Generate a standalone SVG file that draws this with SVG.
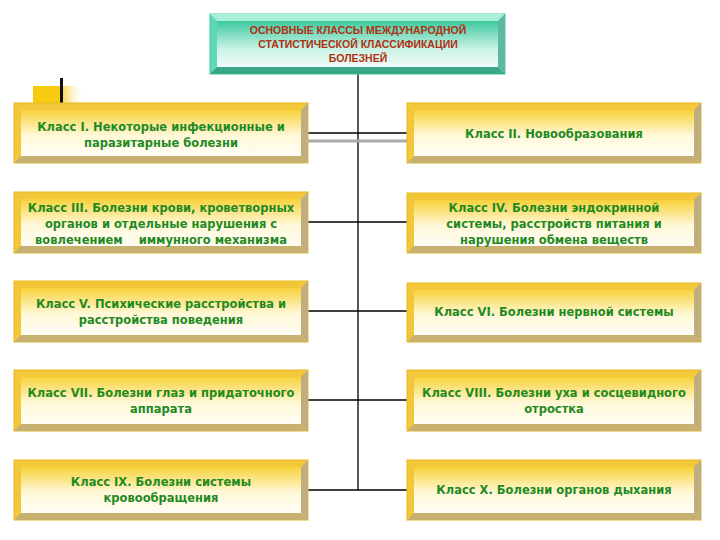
<svg xmlns="http://www.w3.org/2000/svg" width="720" height="540" viewBox="0 0 720 540">
<defs>
<linearGradient id="gy" x1="0" y1="0" x2="0" y2="1"><stop offset="0" stop-color="#f7d23a"/><stop offset="0.55" stop-color="#fff8d8"/><stop offset="1" stop-color="#fffdf5"/></linearGradient>
<linearGradient id="gt" x1="0" y1="0" x2="0" y2="1"><stop offset="0" stop-color="#3ec9a0"/><stop offset="0.6" stop-color="#c8f2e4"/><stop offset="1" stop-color="#f0fcf8"/></linearGradient>
<linearGradient id="deco" x1="0" y1="0" x2="1" y2="0"><stop offset="0" stop-color="#f7cc10"/><stop offset="0.5" stop-color="#f7cc10"/><stop offset="1" stop-color="#fff" stop-opacity="0"/></linearGradient>
</defs>
<style>
.o{fill:#f2c83a;stroke:#e8b820;stroke-width:1}
.bb{fill:#c8b070}.br{fill:#bfae80}
.i{fill:url(#gy)}
.ot{fill:#5fd8b8;stroke:#3cc8a0}
.tt{fill:#a8f0d8}.tb{fill:#3aa888}.tr{fill:#5fb8a0}
.it{fill:url(#gt)}
text{font-family:"DejaVu Sans",sans-serif;font-size:11.5px;font-weight:bold;fill:#1f8a1f;text-anchor:middle}
.h{fill:#b03010;font-size:10.5px;font-family:"Liberation Sans",sans-serif}
.c{stroke:#000;stroke-width:1.3;fill:none}
</style>
<rect x="33" y="86" width="52" height="17" fill="url(#deco)"/>
<rect x="60" y="78" width="3" height="25" fill="#111"/>
<g id="connectors">
<line class="c" x1="358" y1="73" x2="358" y2="490"/>
<line x1="308" y1="141" x2="407" y2="141" stroke="#aaa" stroke-width="3"/>
<line class="c" x1="308" y1="133" x2="407" y2="133"/>
<line class="c" x1="308" y1="222" x2="407" y2="222"/>
<line class="c" x1="308" y1="311" x2="407" y2="311"/>
<line class="c" x1="308" y1="400" x2="407" y2="400"/>
<line class="c" x1="308" y1="490" x2="407" y2="490"/>
</g>
<g id="top">
<rect class="ot" x="210" y="14" width="295" height="60"/>
<polygon class="tt" points="210,14 505,14 498,21 217,21"/>
<polygon class="tb" points="210,74 505,74 498,67 217,67"/>
<polygon class="tr" points="505,14 505,74 498,67 498,21"/>
<rect class="it" x="217" y="21" width="281" height="46"/>
<text class="h" x="358" y="34">ОСНОВНЫЕ КЛАССЫ МЕЖДУНАРОДНОЙ</text>
<text class="h" x="358" y="48">СТАТИСТИЧЕСКОЙ КЛАССИФИКАЦИИ</text>
<text class="h" x="358" y="62">БОЛЕЗНЕЙ</text>
</g>
<g id="n1"><rect class="o" x="14" y="103" width="294" height="60"/><polygon class="bb" points="14,163 308,163 301,156 21,156"/><polygon class="br" points="308,103 308,163 301,156 301,110"/><rect class="i" x="21" y="110" width="280" height="46"/>
<text x="161" y="131">Класс I. Некоторые инфекционные и</text><text x="161" y="147">паразитарные болезни</text></g>
<g id="n2"><rect class="o" x="407" y="103" width="294" height="60"/><polygon class="bb" points="407,163 701,163 694,156 414,156"/><polygon class="br" points="701,103 701,163 694,156 694,110"/><rect class="i" x="414" y="110" width="280" height="46"/>
<text x="554" y="138">Класс II. Новообразования</text></g>
<g id="n3"><rect class="o" x="14" y="192" width="294" height="61"/><polygon class="bb" points="14,253 308,253 301,246 21,246"/><polygon class="br" points="308,192 308,253 301,246 301,199"/><rect class="i" x="21" y="199" width="280" height="47"/>
<text x="161" y="212">Класс III. Болезни крови, кроветворных</text><text x="161" y="228">органов и отдельные нарушения с</text><text x="161" y="244" xml:space="preserve">вовлечением    иммунного механизма</text></g>
<g id="n4"><rect class="o" x="407" y="193" width="294" height="60"/><polygon class="bb" points="407,253 701,253 694,246 414,246"/><polygon class="br" points="701,193 701,253 694,246 694,200"/><rect class="i" x="414" y="200" width="280" height="46"/>
<text x="554" y="212">Класс IV. Болезни эндокринной</text><text x="554" y="228">системы, расстройств питания и</text><text x="554" y="244">нарушения обмена веществ</text></g>
<g id="n5"><rect class="o" x="14" y="281" width="294" height="61"/><polygon class="bb" points="14,342 308,342 301,335 21,335"/><polygon class="br" points="308,281 308,342 301,335 301,288"/><rect class="i" x="21" y="288" width="280" height="47"/>
<text x="161" y="308">Класс V. Психические расстройства и</text><text x="161" y="324">расстройства поведения</text></g>
<g id="n6"><rect class="o" x="407" y="283" width="294" height="59"/><polygon class="bb" points="407,342 701,342 694,335 414,335"/><polygon class="br" points="701,283 701,342 694,335 694,290"/><rect class="i" x="414" y="290" width="280" height="45"/>
<text x="554" y="316">Класс VI. Болезни нервной системы</text></g>
<g id="n7"><rect class="o" x="14" y="370" width="294" height="61"/><polygon class="bb" points="14,431 308,431 301,424 21,424"/><polygon class="br" points="308,370 308,431 301,424 301,377"/><rect class="i" x="21" y="377" width="280" height="47"/>
<text x="161" y="397">Класс VII. Болезни глаз и придаточного</text><text x="161" y="413">аппарата</text></g>
<g id="n8"><rect class="o" x="407" y="370" width="294" height="61"/><polygon class="bb" points="407,431 701,431 694,424 414,424"/><polygon class="br" points="701,370 701,431 694,424 694,377"/><rect class="i" x="414" y="377" width="280" height="47"/>
<text x="554" y="397">Класс VIII. Болезни уха и сосцевидного</text><text x="554" y="413">отростка</text></g>
<g id="n9"><rect class="o" x="14" y="460" width="294" height="60"/><polygon class="bb" points="14,520 308,520 301,513 21,513"/><polygon class="br" points="308,460 308,520 301,513 301,467"/><rect class="i" x="21" y="467" width="280" height="46"/>
<text x="161" y="486">Класс IX. Болезни системы</text><text x="161" y="502">кровообращения</text></g>
<g id="n10"><rect class="o" x="407" y="460" width="294" height="60"/><polygon class="bb" points="407,520 701,520 694,513 414,513"/><polygon class="br" points="701,460 701,520 694,513 694,467"/><rect class="i" x="414" y="467" width="280" height="46"/>
<text x="554" y="494">Класс X. Болезни органов дыхания</text></g>
</svg>
